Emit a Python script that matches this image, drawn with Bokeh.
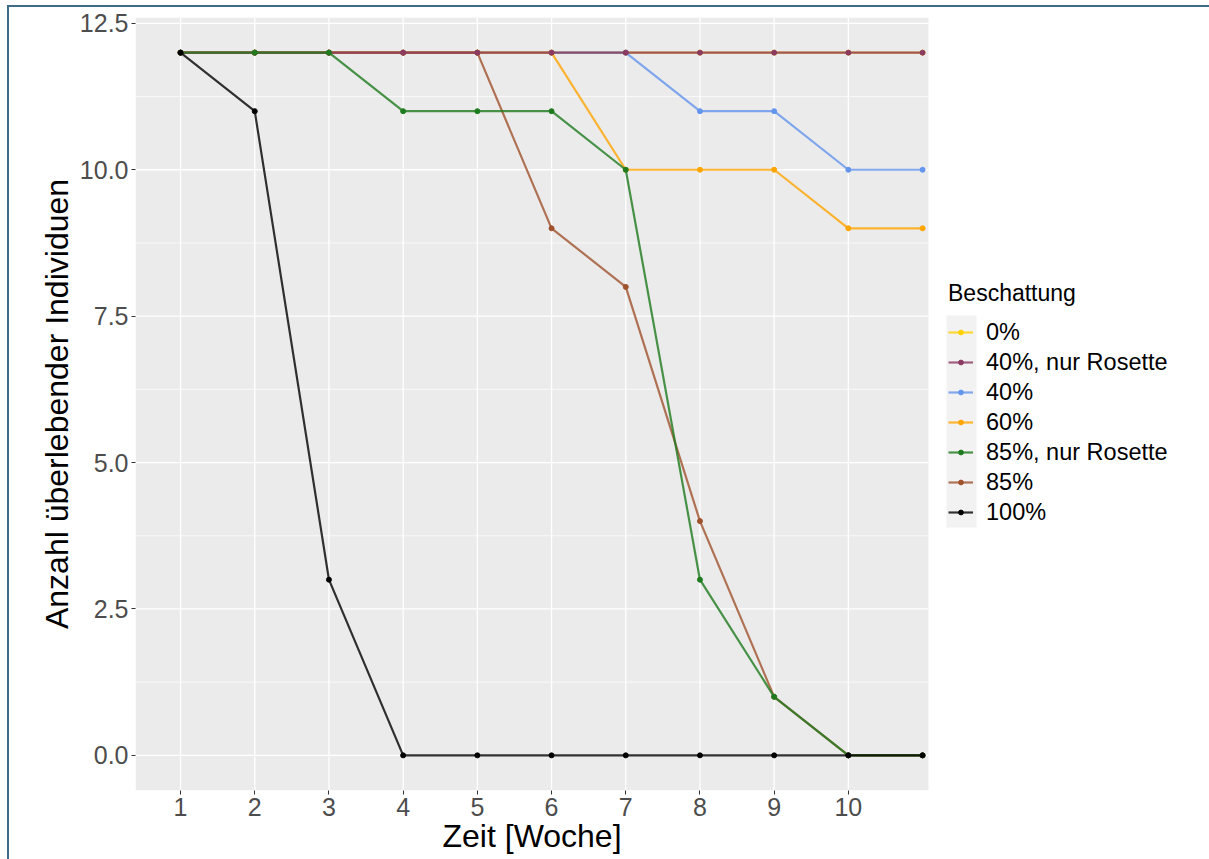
from bokeh.plotting import figure
from bokeh.models import (Legend, LegendItem, FixedTicker, Range1d, NumeralTickFormatter,
                          BoxAnnotation, Title)
from bokeh.embed import file_html
from bokeh.resources import INLINE

# ---- data ----
weeks = [1, 2, 3, 4, 5, 6, 7, 8, 9, 10, 11]
groups = ["0%", "40%, nur Rosette", "40%", "60%", "85%, nur Rosette", "85%", "100%"]
s_0 = [12, 12, 12, 12, 12, 12, 12, 12, 12, 12, 12]
s_40r = [12, 12, 12, 12, 12, 12, 12, 12, 12, 12, 12]
s_40 = [12, 12, 12, 12, 12, 12, 12, 11, 11, 10, 10]
s_60 = [12, 12, 12, 12, 12, 12, 10, 10, 10, 9, 9]
s_85r = [12, 12, 12, 11, 11, 11, 10, 3, 1, 0, 0]
s_85 = [12, 12, 12, 12, 12, 9, 8, 4, 1, 0, 0]
s_100 = [12, 11, 3, 0, 0, 0, 0, 0, 0, 0, 0]
x_ticks = [1, 2, 3, 4, 5, 6, 7, 8, 9, 10]
y_ticks = [0, 2.5, 5, 7.5, 10, 12.5]
y_minor = [1.25, 3.75, 6.25, 8.75, 11.25]

colors = {
    "0%": "#FFD000",
    "40%, nur Rosette": "#8B3A62",
    "40%": "#6495ED",
    "60%": "#FFA500",
    "85%, nur Rosette": "#1E7B1E",
    "85%": "#A0522D",
    "100%": "#000000",
}
series = {
    "0%": s_0,
    "40%, nur Rosette": s_40r,
    "40%": s_40,
    "60%": s_60,
    "85%, nur Rosette": s_85r,
    "85%": s_85,
    "100%": s_100,
}
draw_order = ["0%", "40%", "60%", "85%", "40%, nur Rosette", "85%, nur Rosette", "100%"]

FONT = "Liberation Sans"

# panel (data) limits
X_LO, X_HI = 0.393, 11.08
Y_LO, Y_HI = -0.6, 12.6
# layout in pixels
W, H = 1209, 859
FRAME_L, FRAME_T, FRAME_B = 135, 17, 790
PANEL_R = 928  # right edge of grey panel
x_end = X_LO + (W - FRAME_L) / (PANEL_R - FRAME_L) * (X_HI - X_LO)

p = figure(width=W, height=H, output_backend="svg", toolbar_location=None,
           x_range=Range1d(X_LO, x_end), y_range=Range1d(Y_LO, Y_HI),
           min_border_left=FRAME_L, min_border_top=FRAME_T, min_border_right=0,
           min_border_bottom=H - FRAME_B)
p.styles = {"box-shadow": "inset 7px 5px 0 0 white, inset 9px 7px 0 0 #3E6C86"}

p.background_fill_color = None
p.border_fill_color = None
p.outline_line_color = None
p.xgrid.visible = False
p.ygrid.visible = False

# grey panel + grid lines limited to panel
p.add_layout(BoxAnnotation(left=X_LO, right=X_HI, bottom=Y_LO, top=Y_HI,
                           fill_color="#EBEBEB", fill_alpha=1, line_color=None, level="underlay"))
p.segment(x0=X_LO, x1=X_HI, y0=y_minor, y1=y_minor, line_color="white", line_width=0.7)
p.segment(x0=X_LO, x1=X_HI, y0=y_ticks, y1=y_ticks, line_color="white", line_width=1.3)
p.segment(x0=x_ticks, x1=x_ticks, y0=Y_LO, y1=Y_HI, line_color="white", line_width=1.3)

# axes
p.xaxis.ticker = FixedTicker(ticks=x_ticks, minor_ticks=[])
p.yaxis.ticker = FixedTicker(ticks=y_ticks, minor_ticks=[])
p.yaxis.formatter = NumeralTickFormatter(format="0.0")
p.xaxis.bounds = (X_LO, X_HI)
for ax in (p.xaxis, p.yaxis):
    ax.axis_line_color = None
    ax.major_tick_line_color = "#333333"
    ax.major_tick_line_width = 1
    ax.major_tick_out = 4
    ax.major_tick_in = 0
    ax.minor_tick_line_color = None
    ax.major_label_text_font = FONT
    ax.major_label_text_font_size = "25px"
    ax.major_label_text_color = "#4D4D4D"
    ax.axis_label_text_font = FONT
    ax.axis_label_text_font_size = "32px"
    ax.axis_label_text_font_style = "normal"
    ax.axis_label_text_color = "black"
p.yaxis.axis_label = "Anzahl überlebender Individuen"
p.xaxis.major_label_standoff = 3
p.yaxis.major_label_standoff = 3
p.yaxis.axis_label_standoff = 2

# x-axis title, centred under the grey panel
p.add_layout(Title(text="Zeit [Woche]", align="left", offset=307,
                   text_font=FONT, text_font_size="32px", text_font_style="normal",
                   text_color="black", standoff=-5), "below")

renderers = {}
for g in draw_order:
    c = colors[g]
    r1 = p.line(weeks, series[g], line_color=c, line_width=2.2, line_alpha=0.8)
    r2 = p.scatter(weeks, series[g], marker="circle", size=5, fill_color=c, line_color=c)
    renderers[g] = [r1, r2]

# legend key background (ggplot legend.key)
p.add_layout(BoxAnnotation(left=946, right=976, top=315, bottom=527,
                           left_units="canvas", right_units="canvas",
                           top_units="canvas", bottom_units="canvas",
                           fill_color="#F2F2F2", fill_alpha=1, line_color=None, level="underlay"))

items = [LegendItem(label=g, renderers=renderers[g]) for g in groups]
legend = Legend(items=items, location=(813, 263), title="Beschattung",
                title_text_font=FONT, title_text_font_size="23px", title_text_font_style="normal",
                title_text_color="black", title_standoff=10,
                label_text_font=FONT, label_text_font_size="23.5px", label_text_color="black",
                glyph_width=25, glyph_height=12, label_height=30, spacing=0,
                label_standoff=13, padding=8, margin=0,
                border_line_color=None, background_fill_alpha=0)
p.add_layout(legend, "center")

open("out.html", "w").write(file_html(p, INLINE))
